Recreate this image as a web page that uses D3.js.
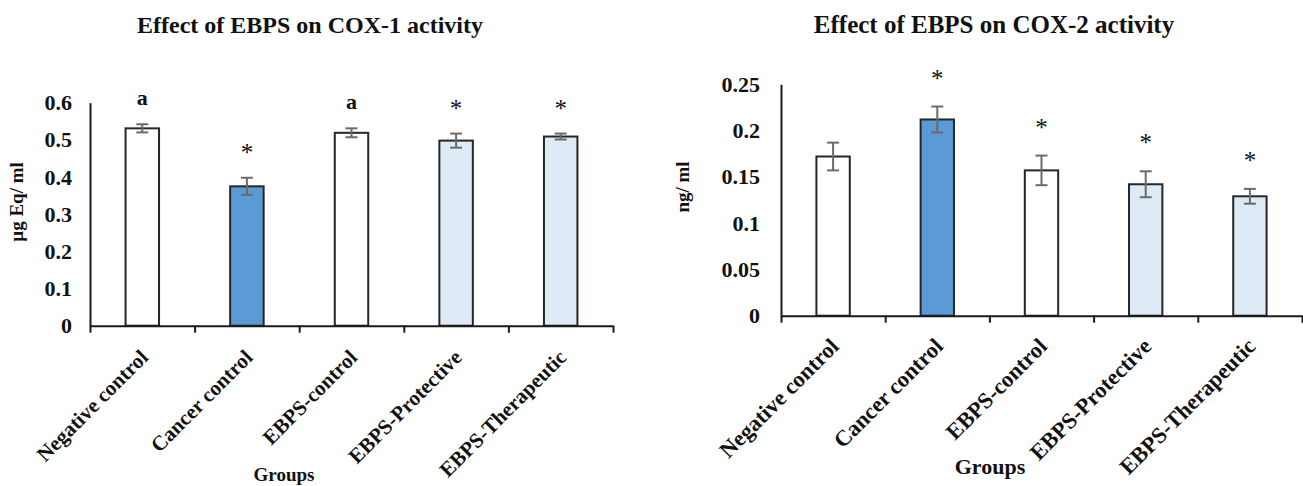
<!DOCTYPE html>
<html>
<head>
<meta charset="utf-8">
<script src="https://cdn.jsdelivr.net/npm/d3@7/dist/d3.min.js"></script>
<style>
  html, body { margin: 0; padding: 0; background: #ffffff; }
  svg { display: block; }
  text { font-family: "Liberation Serif", "Times New Roman", serif; fill: #111; }
</style>
</head>
<body>
<svg id="chart" width="1303" height="486"></svg>
<script>
// ---------- data ----------
const categories = ["Negative control", "Cancer control", "EBPS-control", "EBPS-Protective", "EBPS-Therapeutic"];

const cox1Values = [0.531, 0.375, 0.519, 0.498, 0.509];
const cox1Errors = [0.011, 0.023, 0.012, 0.019, 0.008];
const cox1Marks  = ["a", "*", "a", "*", "*"];
const cox1Ticks  = [0, 0.1, 0.2, 0.3, 0.4, 0.5, 0.6];
const cox1TickLabels = ["0", "0.1", "0.2", "0.3", "0.4", "0.5", "0.6"];

const cox2Values = [0.172, 0.212, 0.157, 0.142, 0.129];
const cox2Errors = [0.015, 0.014, 0.016, 0.014, 0.008];
const cox2Marks  = ["", "*", "*", "*", "*"];
const cox2Ticks  = [0, 0.05, 0.1, 0.15, 0.2, 0.25];
const cox2TickLabels = ["0", "0.05", "0.1", "0.15", "0.2", "0.25"];

// ---------- styles ----------
const fillPalette = ["#ffffff", "#5b9bd5", "#ffffff", "#deebf7", "#deebf7"];
const fillScale = d3.scaleOrdinal().domain(categories).range(fillPalette);

const svg = d3.select("#chart");

function drawPanel(cfg) {
  const g = svg.append("g");
  const x = d3.scaleBand().domain(categories).range([cfg.left, cfg.right]).padding(0);
  const edges = d3.scaleLinear().domain([0, categories.length]).range([cfg.left, cfg.right]);
  const y = d3.scaleLinear().domain([0, cfg.max]).range([cfg.bottom, cfg.top]);
  const bw = x.step() * 0.32;

  // title
  g.append("text")
    .attr("x", cfg.titleX).attr("y", cfg.titleY)
    .attr("text-anchor", "middle")
    .style("font-size", cfg.titleSize + "px").style("font-weight", "bold")
    .text(cfg.title);

  // y axis
  const ya = g.append("g")
    .attr("transform", `translate(${cfg.left},0)`)
    .call(d3.axisLeft(y).tickValues(cfg.ticks).tickSize(0).tickPadding(cfg.tickPad)
      .tickFormat((d, i) => cfg.tickLabels[i]));
  ya.select(".domain").attr("stroke", "#1a1a1a").attr("stroke-width", 2);
  ya.selectAll("text")
    .style("font-family", '"Liberation Serif", "Times New Roman", serif')
    .style("font-size", cfg.tickSize + "px").style("font-weight", "bold").attr("fill", "#111");

  // y title
  g.append("text")
    .attr("transform", `translate(${cfg.yTitleX},${cfg.yTitleY}) rotate(-90)`)
    .attr("text-anchor", "middle")
    .style("font-size", cfg.yTitleSize + "px").style("font-weight", "bold")
    .text(cfg.yTitle);

  // bars
  g.selectAll("rect.bar").data(categories).enter().append("rect")
    .attr("class", "bar")
    .attr("x", d => x(d) + (x.step() - bw) / 2)
    .attr("width", bw)
    .attr("y", (d, i) => y(cfg.values[i]))
    .attr("height", (d, i) => y(0) - y(cfg.values[i]))
    .attr("fill", d => fillScale(d))
    .attr("stroke", "#262626").attr("stroke-width", 2);

  // error bars
  const eb = g.selectAll("g.err").data(categories).enter().append("g").attr("class", "err")
    .attr("stroke", "#6b6b6b").attr("stroke-width", 2);
  const cx = d => x(d) + x.step() / 2;
  eb.append("line")
    .attr("x1", cx).attr("x2", cx)
    .attr("y1", (d, i) => y(cfg.values[i] + cfg.errors[i]))
    .attr("y2", (d, i) => y(cfg.values[i] - cfg.errors[i]));
  eb.append("line")
    .attr("x1", d => cx(d) - 6).attr("x2", d => cx(d) + 6)
    .attr("y1", (d, i) => y(cfg.values[i] + cfg.errors[i]))
    .attr("y2", (d, i) => y(cfg.values[i] + cfg.errors[i]));
  eb.append("line")
    .attr("x1", d => cx(d) - 6).attr("x2", d => cx(d) + 6)
    .attr("y1", (d, i) => y(cfg.values[i] - cfg.errors[i]))
    .attr("y2", (d, i) => y(cfg.values[i] - cfg.errors[i]));

  // significance marks
  g.selectAll("text.mark").data(categories).enter().append("text")
    .attr("class", "mark")
    .attr("x", cx)
    .attr("y", (d, i) => y(cfg.values[i] + cfg.errors[i]) - (cfg.marks[i] === "a" ? cfg.markGap + 2 : cfg.markGap))
    .attr("text-anchor", "middle")
    .style("font-size", (d, i) => (cfg.marks[i] === "a" ? cfg.markSize : cfg.starSize) + "px")
    .style("font-weight", (d, i) => cfg.marks[i] === "a" ? "bold" : "normal")
    .text((d, i) => cfg.marks[i]);

  // x axis
  const xa = g.append("g")
    .attr("transform", `translate(0,${cfg.bottom})`)
    .call(d3.axisBottom(edges).tickValues(d3.range(categories.length + 1)).tickSizeInner(7).tickSizeOuter(0).tickFormat(""));
  xa.select(".domain").attr("stroke", "#1a1a1a").attr("stroke-width", 2);
  xa.selectAll(".tick line").attr("stroke", "#1a1a1a").attr("stroke-width", 2);

  // category labels
  g.selectAll("text.cat").data(categories).enter().append("text")
    .attr("class", "cat")
    .attr("transform", d => `translate(${cx(d) + cfg.catDx},${cfg.bottom + cfg.catDy}) rotate(-45)`)
    .attr("text-anchor", "end")
    .style("font-size", cfg.catSize + "px").style("font-weight", "bold")
    .text(d => d);

  // x title
  g.append("text")
    .attr("x", cfg.xTitleX).attr("y", cfg.xTitleY)
    .attr("text-anchor", "middle")
    .style("font-size", cfg.xTitleSize + "px").style("font-weight", "bold")
    .text("Groups");
}

drawPanel({
  title: "Effect of EBPS on COX-1 activity", titleX: 310, titleY: 33, titleSize: 24,
  left: 90, right: 613, top: 102.7, bottom: 325.7, max: 0.6,
  ticks: cox1Ticks, tickLabels: cox1TickLabels, tickPad: 18, tickSize: 22,
  yTitle: "µg Eq/ ml", yTitleX: 23, yTitleY: 202, yTitleSize: 19,
  values: cox1Values, errors: cox1Errors, marks: cox1Marks,
  markGap: 17, markSize: 22, starSize: 25,
  catDx: 7, catDy: 33, catSize: 21,
  xTitleX: 284, xTitleY: 481, xTitleSize: 19
});

drawPanel({
  title: "Effect of EBPS on COX-2 activity", titleX: 994, titleY: 33, titleSize: 25,
  left: 781, right: 1302, top: 84.3, bottom: 315.7, max: 0.25,
  ticks: cox2Ticks, tickLabels: cox2TickLabels, tickPad: 21, tickSize: 22,
  yTitle: "ng/ ml", yTitleX: 689, yTitleY: 187, yTitleSize: 19,
  values: cox2Values, errors: cox2Errors, marks: cox2Marks,
  markGap: 20, markSize: 22, starSize: 25,
  catDx: 7, catDy: 32, catSize: 22.5,
  xTitleX: 990, xTitleY: 474, xTitleSize: 22
});
</script>
</body>
</html>
